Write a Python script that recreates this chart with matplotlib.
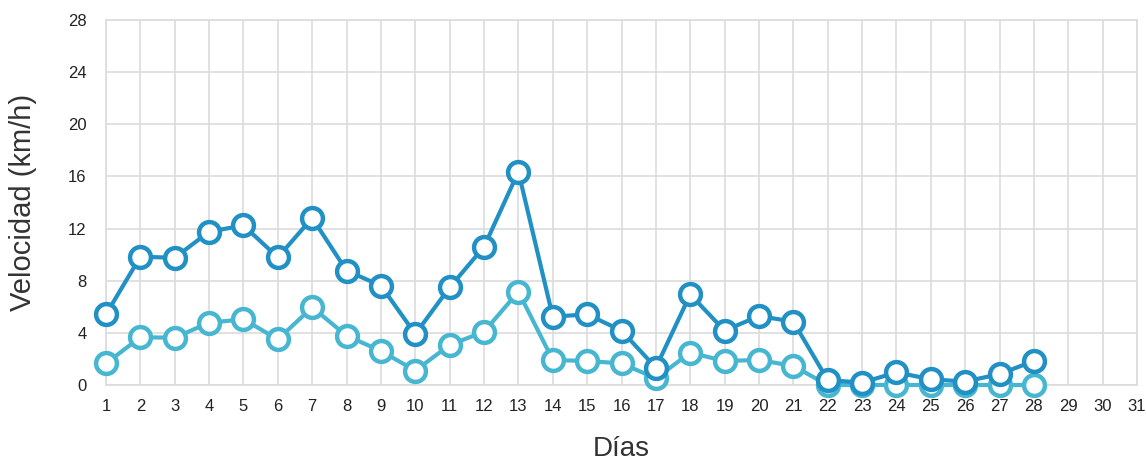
import matplotlib
matplotlib.use("Agg")
import matplotlib.pyplot as plt

dias = list(range(1, 29))
serie_max = [5.42, 9.84, 9.76, 11.76, 12.24, 9.79, 12.81, 8.77, 7.62, 3.91,
             7.49, 10.6, 16.36, 5.24, 5.42, 4.17, 1.33, 6.95, 4.17, 5.29,
             4.86, 0.38, 0.18, 0.97, 0.44, 0.26, 0.84, 1.84]
serie_media = [1.66, 3.66, 3.63, 4.78, 5.04, 3.5, 5.96, 3.78, 2.61, 1.1,
               3.07, 4.09, 7.16, 1.92, 1.84, 1.66, 0.51, 2.48, 1.84, 1.92,
               1.46, 0.0, 0.0, 0.0, 0.0, 0.0, 0.0, 0.0]
x_ticks = list(range(1, 32))
y_ticks = [0, 4, 8, 12, 16, 20, 24, 28]

plt.rcParams['font.family'] = ['Liberation Sans', 'DejaVu Sans']

W, H = 1146, 462
fig = plt.figure(figsize=(W / 100, H / 100), dpi=100)
ax = fig.add_axes([106 / W, 1 - 385 / H, (1137 - 106) / W, (385 - 20) / H])

dark = '#2190c4'
light = '#47b6d1'

ax.plot(dias, serie_media, color=light, lw=3, marker='o', ms=15,
        mfc='white', mec=light, mew=3.2, clip_on=False, zorder=3)
ax.plot(dias, serie_max, color=dark, lw=3, marker='o', ms=15,
        mfc='white', mec=dark, mew=3.2, clip_on=False, zorder=4)

ax.set_xlim(1, 31)
ax.set_ylim(0, 28)
ax.set_xticks(x_ticks)
ax.set_yticks(y_ticks)
ax.grid(True, color='#dcdcdc', lw=1.2)
ax.set_axisbelow(True)
for s in ax.spines.values():
    s.set_color('#dcdcdc')
    s.set_linewidth(1.2)
ax.tick_params(length=0, labelsize=12, colors='#222222')
ax.tick_params(axis='x', pad=10)
ax.tick_params(axis='y', pad=14)

ax.set_xlabel('Días', fontsize=20, color='#333333', labelpad=16)
ax.set_ylabel('Velocidad (km/h)', fontsize=21, color='#333333', labelpad=22)

fig.savefig('out.png', dpi=100)
